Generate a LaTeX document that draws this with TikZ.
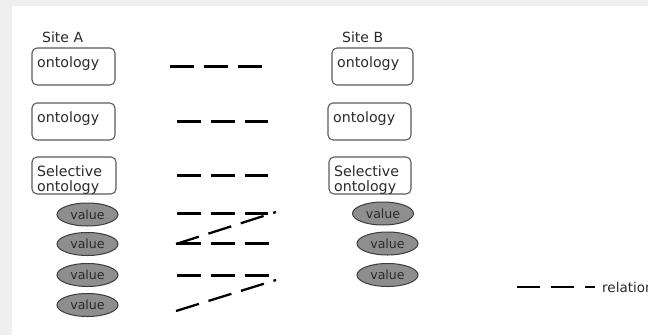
\documentclass[tikz,border=0pt]{standalone}
\usepackage{fontspec}
\setmainfont{DejaVu Sans}
\usetikzlibrary{shapes.geometric}
\definecolor{bgray}{HTML}{EFEFEF}
\definecolor{boxline}{HTML}{5C5C5C}
\definecolor{ellfill}{HTML}{8E8E8E}
\definecolor{ellline}{HTML}{3C3C3C}
\definecolor{txt}{HTML}{2A2A2A}
\tikzset{
  box/.style={draw=boxline, line width=1.1pt, rounded corners=5pt, minimum height=37pt, inner sep=0pt},
  boxlbl/.style={anchor=north west, inner sep=0pt, xshift=5.5pt, yshift=-9pt, text=txt, font=\fontsize{14.2}{14.8}\selectfont, align=left},
  val/.style={ellipse, draw=ellline, fill=ellfill, line width=1pt, minimum width=61pt, minimum height=23pt, inner sep=0pt, text=txt, font=\fontsize{12.6}{13}\selectfont},
  site/.style={anchor=base west, inner sep=0pt, text=txt, font=\fontsize{14}{15}\selectfont},
  rel/.style={line width=2.6pt, dash pattern=on 24pt off 10pt, black}
}
\begin{document}
\begin{tikzpicture}[x=1pt, y=-1pt]
\fill[bgray] (0,0) rectangle (648,335);
\fill[white] (12,6) rectangle (648,335);
\useasboundingbox (0,0) rectangle (648,335);
\clip (0,0) rectangle (648,335);

% Site labels
\node[site] (sa) at (42,42) {Site A};
\node[site] (sb) at (342,42) {Site B};

% Site A boxes
\node[box, minimum width=83pt, label={[boxlbl]north west:ontology}] (a1) at (73.5,66.5) {};
\node[box, minimum width=83pt, label={[boxlbl]north west:ontology}] (a2) at (73.5,121.5) {};
\node[box, minimum width=84pt, label={[boxlbl, yshift=-0.5pt]north west:Selective\\ontology}] (a3) at (74,175.5) {};

% Site B boxes
\node[box, minimum width=81pt, label={[boxlbl]north west:ontology}] (b1) at (372.5,66.5) {};
\node[box, minimum width=83pt, label={[boxlbl]north west:ontology}] (b2) at (369.5,121.5) {};
\node[box, minimum width=82pt, label={[boxlbl, yshift=-0.5pt]north west:Selective\\ontology}] (b3) at (370,175.5) {};

% values
\node[val] (va1) at (87.5,214.5) {value};
\node[val] (va2) at (87.5,244) {value};
\node[val] (va3) at (87.5,275) {value};
\node[val] (va4) at (87.5,305) {value};
\node[val] (vb1) at (383,213.5) {value};
\node[val] (vb2) at (387.5,243.5) {value};
\node[val] (vb3) at (387.5,275) {value};

% relations
\draw[rel, shorten <=54pt, shorten >=69pt] (a1) -- (b1);
\draw[rel, shorten <=61pt, shorten >=59pt] (a2) -- (b2);
\draw[rel, shorten <=60pt, shorten >=60pt] (a3) -- (b3);
\draw[rel, shorten <=58pt, shorten >=84pt] (va1.east |- 0,213.5) -- (vb1.west |- 0,213.5);
\draw[rel, shorten <=58pt, shorten >=88pt] (va2.east |- 0,243.5) -- (vb2.west |- 0,243.5);
\draw[rel, shorten <=58pt, shorten >=88pt] (va3.east |- 0,275.5) -- (vb3.west |- 0,275.5);

\coordinate (d1s) at (176,244);
\coordinate (d1e) at (276,212);
\coordinate (d2s) at (176,311);
\coordinate (d2e) at (276,280);
\draw[rel, line width=2.3pt] (d1s) -- (d1e);
\draw[rel, line width=2.3pt] (d2s) -- (d2e);

% legend
\coordinate (ls) at (517,287);
\coordinate (le) at (595,287);
\node[anchor=base west, inner sep=0pt, text=txt, font=\fontsize{13.5}{14}\selectfont] (lt) at (602,292) {relation};
\draw[line width=2.6pt, dash pattern=on 23pt off 11pt] (ls) -- (le);
\end{tikzpicture}
\end{document}
